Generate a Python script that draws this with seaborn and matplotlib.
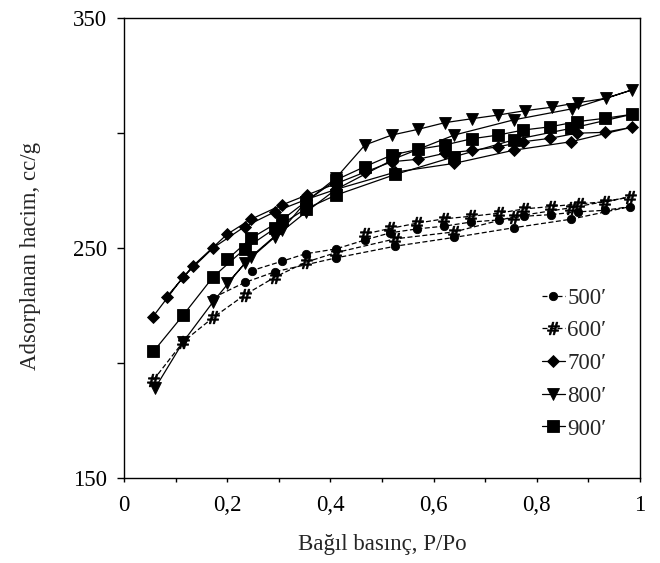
import matplotlib
matplotlib.use("Agg")
import matplotlib.pyplot as plt
import seaborn as sns
import pandas as pd
from matplotlib.ticker import MultipleLocator

# ---- data (adsorption branch then desorption branch) ----
labels = ["500\u2032", "600\u2032", "700\u2032", "800\u2032", "900\u2032"]

x500 = [0.173, 0.234, 0.293, 0.411, 0.526, 0.640, 0.755, 0.866, 0.981,
        0.932, 0.879, 0.827, 0.775, 0.726, 0.673, 0.621, 0.568, 0.516, 0.467, 0.411, 0.352, 0.307, 0.248]
y500 = [228.4, 235.0, 239.7, 245.7, 250.8, 254.6, 258.8, 262.5, 268.0,
        266.4, 265.7, 264.5, 263.8, 262.2, 261.3, 259.5, 258.3, 256.6, 253.5, 249.6, 247.5, 244.3, 240.2]

x600 = [0.057, 0.115, 0.173, 0.234, 0.293, 0.352, 0.411, 0.526, 0.640, 0.755, 0.866, 0.981,
        0.932, 0.882, 0.827, 0.775, 0.726, 0.673, 0.621, 0.568, 0.516, 0.467]
y600 = [192.6, 209.3, 219.8, 229.6, 237.4, 243.8, 248.0, 254.0, 257.0, 263.6, 267.5, 272.2,
        270.1, 269.2, 268.0, 267.0, 265.1, 263.8, 262.7, 260.8, 258.5, 256.1]

x700 = [0.056, 0.115, 0.173, 0.234, 0.293, 0.352, 0.411, 0.526, 0.640, 0.755, 0.866, 0.984,
        0.932, 0.877, 0.826, 0.774, 0.725, 0.674, 0.622, 0.570, 0.519, 0.467, 0.411, 0.354, 0.306,
        0.246, 0.200, 0.134, 0.083]
y700 = [220.1, 237.5, 250.1, 259.3, 265.8, 271.0, 275.5, 283.0, 286.8, 292.5, 296.2, 302.5,
        300.3, 299.9, 297.7, 296.2, 294.0, 292.4, 291.2, 288.6, 287.5, 283.0, 278.0, 273.0, 268.7,
        262.5, 256.0, 242.3, 228.8]

x800 = [0.060, 0.115, 0.173, 0.234, 0.293, 0.352, 0.411, 0.526, 0.640, 0.755, 0.868, 0.984,
        0.935, 0.880, 0.829, 0.777, 0.725, 0.674, 0.622, 0.570, 0.519, 0.467, 0.411, 0.352,
        0.306, 0.246, 0.200]
y800 = [189.0, 209.3, 226.7, 243.4, 254.9, 265.5, 275.5, 289.0, 299.1, 305.7, 310.5, 318.7,
        315.1, 313.2, 311.2, 309.7, 307.8, 306.2, 304.5, 301.6, 299.1, 294.8, 280.5, 270.0,
        257.8, 246.2, 234.6]

x900 = [0.057, 0.115, 0.173, 0.234, 0.293, 0.352, 0.411, 0.526, 0.640, 0.755, 0.866, 0.984,
        0.932, 0.877, 0.826, 0.774, 0.725, 0.674, 0.622, 0.570, 0.519, 0.467, 0.411, 0.352,
        0.306, 0.246, 0.200]
y900 = [205.0, 220.9, 237.5, 249.6, 258.6, 267.0, 273.0, 282.0, 289.7, 297.0, 302.0, 308.1,
        306.4, 304.9, 302.7, 301.3, 299.1, 297.5, 294.8, 292.9, 290.4, 285.4, 279.6, 270.1,
        262.2, 254.2, 245.0]

xticks = [0, 0.2, 0.4, 0.6, 0.8, 1]
xticklabels = ["0", "0,2", "0,4", "0,6", "0,8", "1"]
yticks = [150, 250, 350]

# ---- style ----
sns.set_style("ticks")
plt.rcParams["font.family"] = ["Liberation Serif", "DejaVu Serif"]
plt.rcParams["mathtext.fontset"] = "dejavuserif"

FS = 16.5

fig = plt.figure(figsize=(6.6, 5.63), dpi=100)
ax = fig.add_axes([124 / 660, 1 - 478 / 563, 516 / 660, 460 / 563])

series = [
    (x500, y500, "o", 6, (0, (4, 2))),
    (x600, y600, r"$\#$", 9, (0, (4, 2))),
    (x700, y700, "D", 6, "-"),
    (x800, y800, "v", 9, "-"),
    (x900, y900, "s", 8.5, "-"),
]

for (xs, ys, mk, ms, ls), lab in zip(series, labels):
    df = pd.DataFrame({"x": xs, "y": ys})
    sns.lineplot(data=df, x="x", y="y", sort=False, estimator=None, ax=ax,
                 color="black", linewidth=0.9, linestyle=ls, marker=mk,
                 markersize=ms, markeredgecolor="black", markerfacecolor="black",
                 markeredgewidth=0.6, label=lab)

ax.set_xlim(0, 1)
ax.set_ylim(150, 350)
ax.set_xticks(xticks)
ax.set_xticklabels(xticklabels)
ax.xaxis.set_minor_locator(MultipleLocator(0.1))
ax.set_yticks(yticks)
ax.yaxis.set_minor_locator(MultipleLocator(50))
ax.tick_params(axis="both", which="both", direction="out", width=1,
               colors="black", labelsize=FS)
ax.tick_params(axis="x", which="both", length=3, pad=9)
ax.tick_params(axis="y", which="both", length=5, pad=7)
for s in ax.spines.values():
    s.set_visible(True)
    s.set_linewidth(1.0)
    s.set_color("black")

ax.set_xlabel("Bağıl basınç, P/Po", fontsize=FS, labelpad=13)
ax.set_ylabel("Adsorplanan hacim, cc/g", fontsize=FS)
ax.yaxis.set_label_coords(-0.160, 0.483)

leg = ax.legend(loc="upper left", bbox_to_anchor=(0.81, 0.414), frameon=False,
                fontsize=FS, handlelength=1.0, handletextpad=0.1,
                labelspacing=0.51, borderpad=0, borderaxespad=0)

fig.savefig("out.png", dpi=100)
